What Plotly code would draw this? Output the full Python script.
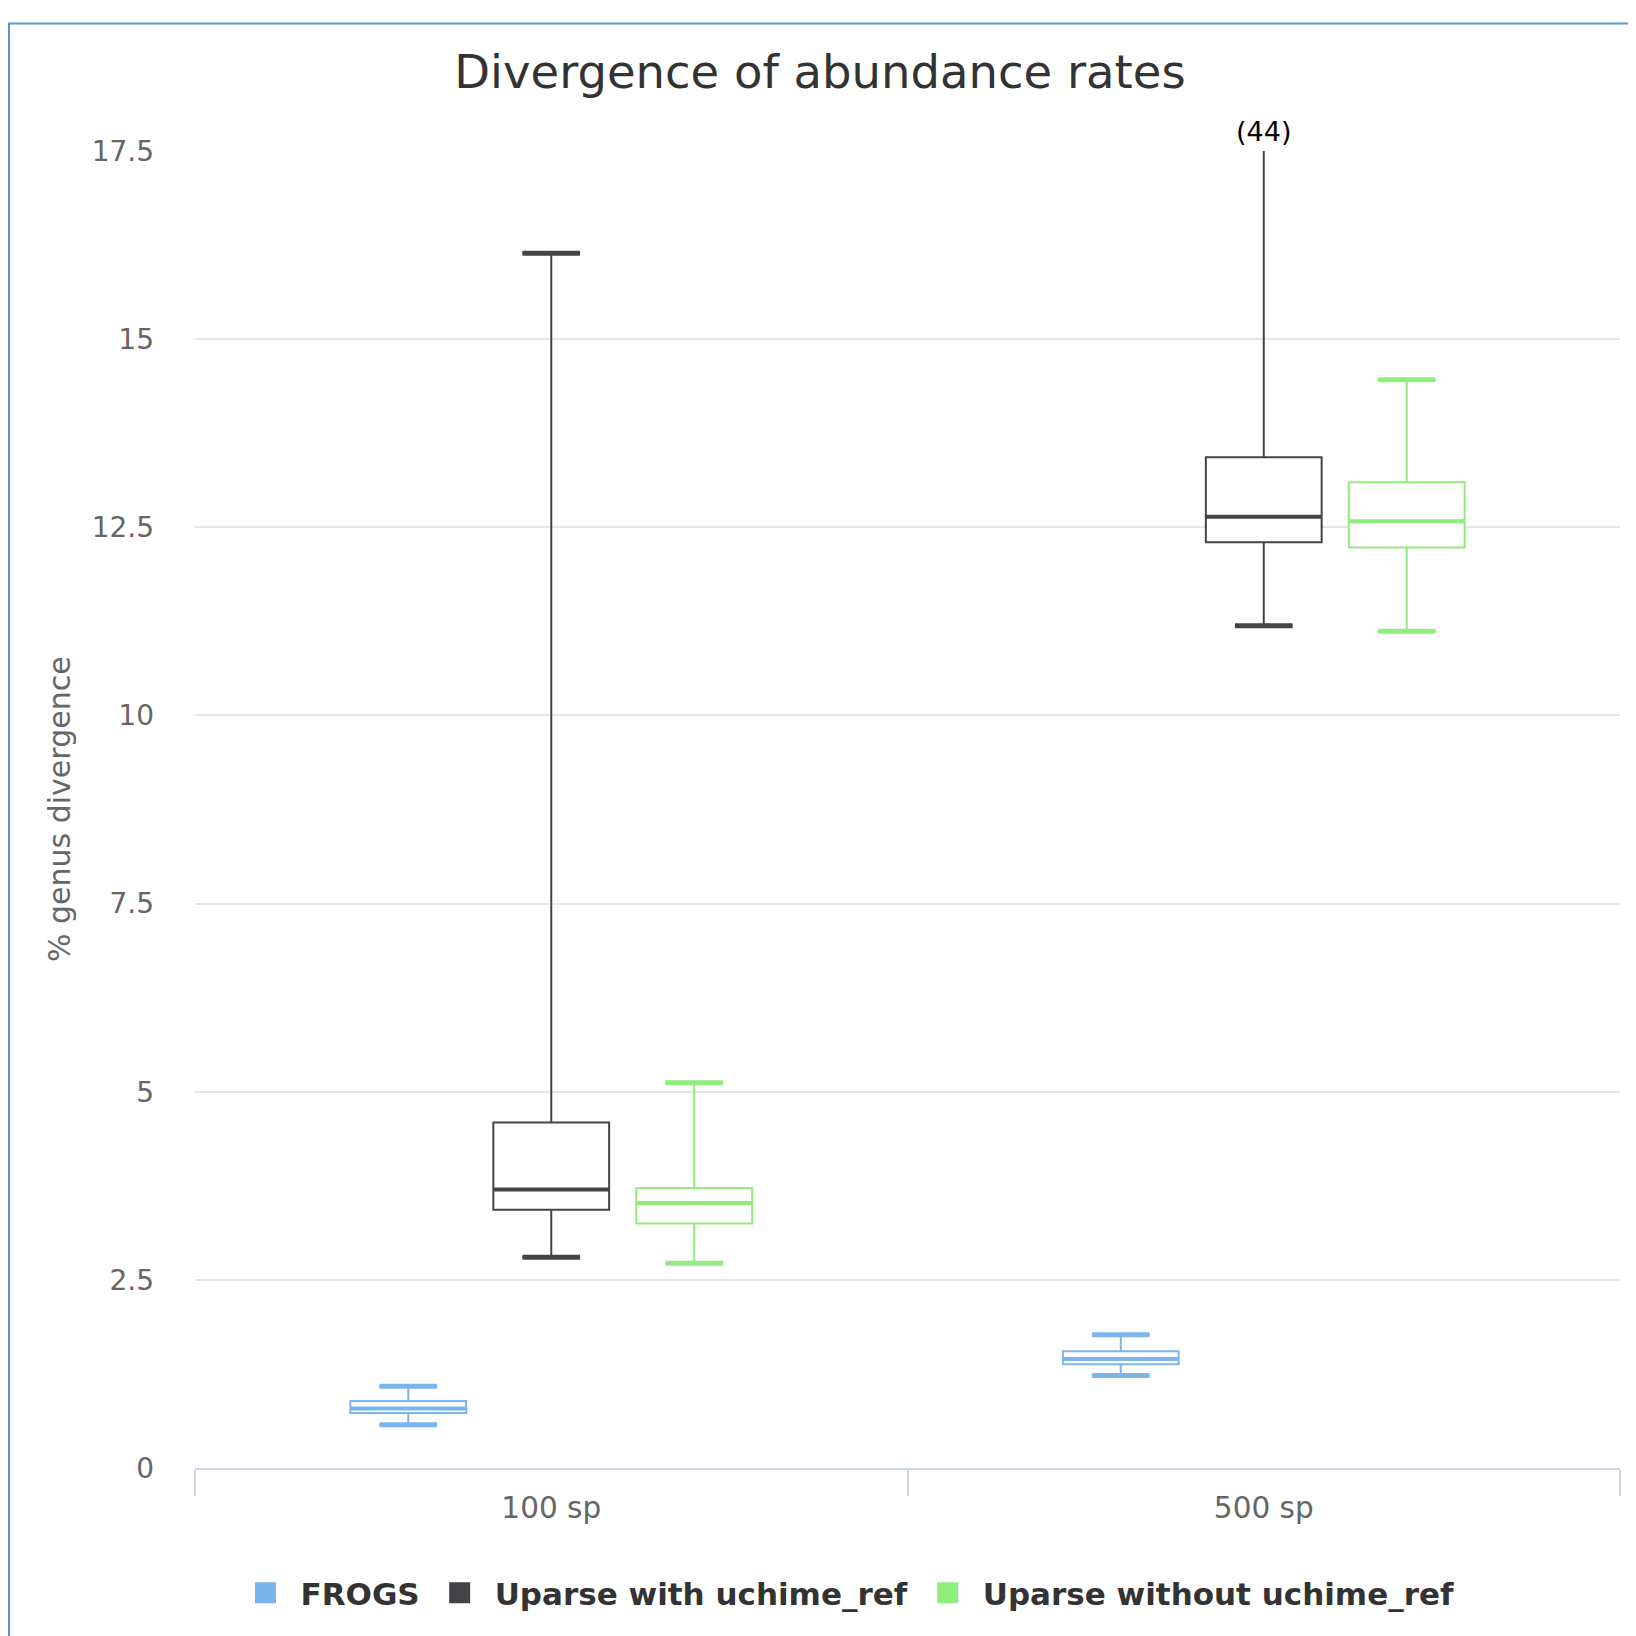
import plotly.graph_objects as go

categories = ["100 sp", "500 sp"]
series_names = ["FROGS", "Uparse with uchime_ref", "Uparse without uchime_ref"]
series_colors = ["#7cb5ec", "#434348", "#90ed7d"]

frogs_low = [0.575, 1.23]
frogs_q1 = [0.73, 1.38]
frogs_med = [0.79, 1.45]
frogs_q3 = [0.89, 1.55]
frogs_high = [1.085, 1.77]

with_low = [2.80, 11.19]
with_q1 = [3.43, 12.30]
with_med = [3.70, 12.64]
with_q3 = [4.59, 13.43]
with_high = [16.14, 44.0]

without_low = [2.72, 11.12]
without_q1 = [3.25, 12.23]
without_med = [3.52, 12.58]
without_q3 = [3.72, 13.10]
without_high = [5.12, 14.46]

y_ticks = [0, 2.5, 5, 7.5, 10, 12.5, 15, 17.5]
y_ticktext = ["0", "2.5", "5", "7.5", "10", "12.5", "15", "17.5"]
outlier_label = "(44)"

FONT = "DejaVu Sans"
W, H = 1628, 1628
ML, MR, MT, MB = 187, 16, 143, 168
PW, PH = W - ML - MR, H - MT - MB
GAP = 0.398

stats = [
    (frogs_low, frogs_q1, frogs_med, frogs_q3, frogs_high),
    (with_low, with_q1, with_med, with_q3, with_high),
    (without_low, without_q1, without_med, without_q3, without_high),
]

fig = go.Figure()
for i, (name, color, (lo, q1, med, q3, hi)) in enumerate(zip(series_names, series_colors, stats)):
    fig.add_trace(go.Box(
        x=categories, lowerfence=lo, q1=q1, median=med, q3=q3, upperfence=hi,
        name=name, line=dict(color=color, width=2), fillcolor="white",
        whiskerwidth=0.5, boxpoints=False, showlegend=False, hoverinfo="skip",
        alignmentgroup="a", offsetgroup=str(i),
    ))
    # thicker median line overlay
    fig.add_trace(go.Box(
        x=categories, lowerfence=med, q1=med, median=med, q3=med, upperfence=med,
        name=name, line=dict(color=color, width=4), fillcolor="rgba(0,0,0,0)",
        whiskerwidth=0, boxpoints=False, showlegend=False, hoverinfo="skip",
        alignmentgroup="a", offsetgroup=str(i),
    ))

# thicker whisker caps
for i, (name, color, (lo, q1, med, q3, hi)) in enumerate(zip(series_names, series_colors, stats)):
    fig.add_trace(go.Scatter(
        x=categories + categories, y=lo + hi, mode="markers", name=name,
        marker=dict(symbol="line-ew", size=41, color=color, line=dict(color=color, width=5)),
        showlegend=False, hoverinfo="skip", cliponaxis=True,
        alignmentgroup="s", offsetgroup=str(i),
    ))

for i, (name, color) in enumerate(zip(series_names, series_colors)):
    fig.add_trace(go.Scatter(
        x=[None], y=[None], mode="markers", name=name,
        marker=dict(symbol="square", size=16, color=color, line=dict(color=color, width=5)),
        hoverinfo="skip", alignmentgroup="s", offsetgroup=str(i),
    ))

fig.add_annotation(
    x=categories[1], y=y_ticks[-1], xref="x", yref="y", text=outlier_label,
    showarrow=False, yanchor="bottom", yshift=2,
    font=dict(family=FONT, size=27, color="#000000"),
)

fig.add_annotation(
    x=(51.5 - ML) / PW, y=0.5, xref="paper", yref="paper", text="% genus divergence",
    textangle=-90, showarrow=False, xanchor="center", yanchor="middle",
    font=dict(family=FONT, size=30, color="#666666"),
)

fig.add_shape(
    type="rect", xref="paper", yref="paper",
    x0=(1 - ML) / PW, x1=1.3, y0=-0.3, y1=(H - MB - 15.5) / PH,
    line=dict(color="#5b93c7", width=2), fillcolor="rgba(0,0,0,0)", layer="below",
)

fig.update_layout(
    width=W, height=H,
    margin=dict(l=ML, r=MR, t=MT, b=MB, autoexpand=False),
    paper_bgcolor="white", plot_bgcolor="white",
    boxmode="group", boxgap=GAP, boxgroupgap=0.19,
    scattermode="group", scattergap=GAP,
    font=dict(family=FONT, color="#666666"),
    title=dict(
        text="Divergence of abundance rates", x=812 / W, xref="container", xanchor="center",
        y=1 - 64 / H, yref="container", yanchor="middle",
        font=dict(family=FONT, size=46.5, color="#333333"),
    ),
    legend=dict(
        orientation="h", x=(837 - ML) / PW, xanchor="center", y=(H - MB - 1585) / PH,
        yanchor="middle", font=dict(family=FONT, size=31, color="#333333", weight="bold"),
        itemwidth=60, bgcolor="rgba(0,0,0,0)",
    ),
    xaxis=dict(
        type="category", range=[-0.5, 1.5], showgrid=False, zeroline=False,
        showline=True, linecolor="#ccd6eb", linewidth=2,
        ticks="outside", tickson="boundaries", ticklen=26, tickwidth=2, tickcolor="#ccd6eb",
        ticklabelstandoff=13,
        tickfont=dict(family=FONT, size=29.5, color="#666666"), fixedrange=True,
    ),
    yaxis=dict(
        range=[0, 17.5], tickvals=y_ticks, ticktext=y_ticktext,
        showgrid=True, gridcolor="#e6e6e6", gridwidth=2, zeroline=False, showline=False,
        ticks="", ticklabelstandoff=40,
        tickfont=dict(family=FONT, size=28, color="#666666"), fixedrange=True,
    ),
)

fig.write_html("out.html")
